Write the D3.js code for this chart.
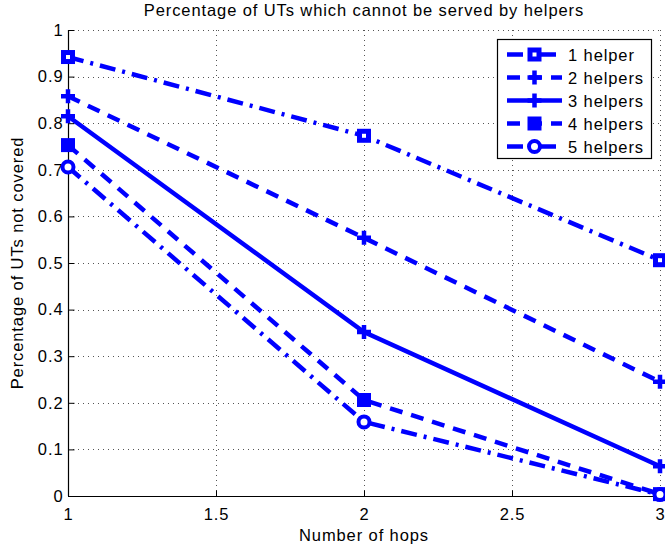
<!DOCTYPE html>
<html>
<head>
<meta charset="utf-8">
<script src="https://cdn.jsdelivr.net/npm/d3@7/dist/d3.min.js"></script>
<style>
  body { margin: 0; background: #fff; }
  svg { display: block; font-family: "Liberation Sans", Arial, sans-serif; }
  text { letter-spacing: 0.9px; }
</style>
</head>
<body>
<svg id="chart" width="665" height="552"></svg>
<script>
// Number of hops on the x axis
const hops = [1, 2, 3];

// Share of UTs left uncovered, one array per helper count
const helper1 = [0.942, 0.773, 0.506];
const helper2 = [0.858, 0.554, 0.245];
const helper3 = [0.815, 0.352, 0.064];
const helper4 = [0.753, 0.206, 0.004];
const helper5 = [0.706, 0.159, 0.003];

const seriesNames = ["1 helper", "2 helpers", "3 helpers", "4 helpers", "5 helpers"];

const xTicks = [1, 1.5, 2, 2.5, 3];
const yTicks = [0, 0.1, 0.2, 0.3, 0.4, 0.5, 0.6, 0.7, 0.8, 0.9, 1];

const titleText = "Percentage of UTs which cannot be served by helpers";
const xLabel = "Number of hops";
const yLabel = "Percentage of UTs not covered";

// Line/marker style per series
const styles = [
  { dash: "16,7,3,7", marker: "squareOpen" },
  { dash: "13,9", marker: "plus" },
  { dash: null, marker: "plus" },
  { dash: "13,9", marker: "squareFilled" },
  { dash: "16,7,3,7", marker: "circle" }
];

const series = [helper1, helper2, helper3, helper4, helper5].map((vals, i) => ({
  name: seriesNames[i],
  points: vals.map((v, j) => ({ x: hops[j], y: v })),
  ...styles[i]
}));

const blue = "#0000ff";
const fontSize = 16.5;
const margin = { left: 68, right: 5, top: 30, bottom: 56 };
const W = 665, H = 552;
const svg = d3.select("#chart");

const x = d3.scaleLinear().domain([1, 3]).range([margin.left, W - margin.right]);
const y = d3.scaleLinear().domain([0, 1]).range([H - margin.bottom, margin.top]);

// Dotted grid
const grid = svg.append("g").attr("stroke", "#555").attr("stroke-width", 1)
  .attr("stroke-dasharray", "1,4");
grid.selectAll(".gx").data(xTicks.slice(1)).enter().append("line")
  .attr("x1", d => Math.round(x(d)) + 0.5).attr("x2", d => Math.round(x(d)) + 0.5)
  .attr("y1", y(0)).attr("y2", y(1));
grid.selectAll(".gy").data(yTicks.slice(1)).enter().append("line")
  .attr("y1", d => Math.round(y(d)) + 0.5).attr("y2", d => Math.round(y(d)) + 0.5)
  .attr("x1", x(1)).attr("x2", x(3));

// Axes with inward ticks
const xAxis = d3.axisBottom(x).tickValues(xTicks).tickSize(-6).tickPadding(12)
  .tickFormat(d3.format("~g"));
const yAxis = d3.axisLeft(y).tickValues(yTicks).tickSize(-6).tickPadding(5)
  .tickFormat(d3.format("~g"));

const gx = svg.append("g").attr("transform", `translate(0,${Math.round(y(0)) + 0.5})`).call(xAxis);
const gy = svg.append("g").attr("transform", `translate(${Math.round(x(1)) + 0.5},0)`).call(yAxis);
[gx, gy].forEach(g => {
  g.select(".domain").attr("stroke", "#000").attr("stroke-width", 1.2);
  g.selectAll(".tick line").attr("stroke", "#000");
  g.selectAll("text").attr("font-size", fontSize).attr("fill", "#000")
    .attr("font-family", "Liberation Sans, Arial, sans-serif");
});
gx.select(".domain").attr("d", `M${x(1)},0H${x(3)}`);
gy.select(".domain").attr("d", `M0,${y(0)}V${y(1)}`);

// Series lines
const line = d3.line().x(d => x(d.x)).y(d => y(d.y));
const plot = svg.append("g");
series.forEach(s => {
  plot.append("path").datum(s.points)
    .attr("d", line).attr("fill", "none").attr("stroke", blue)
    .attr("stroke-width", 4.5)
    .attr("stroke-dasharray", s.dash);
});

function drawMarker(g, type, cx, cy) {
  if (type === "squareOpen") {
    g.append("rect").attr("x", cx - 4.5).attr("y", cy - 4.5).attr("width", 9).attr("height", 9)
      .attr("fill", "#fff").attr("stroke", blue).attr("stroke-width", 5);
  } else if (type === "squareFilled") {
    g.append("rect").attr("x", cx - 7).attr("y", cy - 7).attr("width", 14).attr("height", 14)
      .attr("fill", blue);
  } else if (type === "circle") {
    g.append("circle").attr("cx", cx).attr("cy", cy).attr("r", 5.5)
      .attr("fill", "#fff").attr("stroke", blue).attr("stroke-width", 4);
  } else if (type === "plus") {
    g.append("path").attr("d", `M${cx - 7},${cy}H${cx + 7}M${cx},${cy - 7}V${cy + 7}`)
      .attr("stroke", blue).attr("stroke-width", 4.5).attr("fill", "none");
  }
}

series.forEach(s => {
  s.points.forEach(p => drawMarker(plot, s.marker, x(p.x), y(p.y)));
});

// Legend
const lg = svg.append("g").attr("transform", "translate(497,39)");
lg.append("rect").attr("x", 0.5).attr("y", 0.5).attr("width", 154).attr("height", 119)
  .attr("fill", "#fff").attr("stroke", "#000").attr("stroke-width", 1.2);
series.forEach((s, i) => {
  const ry = 15.5 + i * 23;
  lg.append("line").attr("x1", 10).attr("x2", 65).attr("y1", ry).attr("y2", ry)
    .attr("stroke", blue).attr("stroke-width", 4.5).attr("stroke-dasharray", s.dash);
  drawMarker(lg, s.marker, 37.5, ry);
  lg.append("text").attr("x", 71).attr("y", ry + 6).attr("font-size", fontSize)
    .attr("fill", "#000").text(s.name);
});

// Title and axis labels
svg.append("text").attr("x", (x(1) + x(3)) / 2).attr("y", 16).attr("text-anchor", "middle")
  .attr("font-size", fontSize).text(titleText);
svg.append("text").attr("x", (x(1) + x(3)) / 2).attr("y", 541).attr("text-anchor", "middle")
  .attr("font-size", fontSize).text(xLabel);
svg.append("text").attr("transform", `translate(23,${(y(0) + y(1)) / 2}) rotate(-90)`)
  .attr("text-anchor", "middle").attr("font-size", fontSize).text(yLabel);
</script>
</body>
</html>
